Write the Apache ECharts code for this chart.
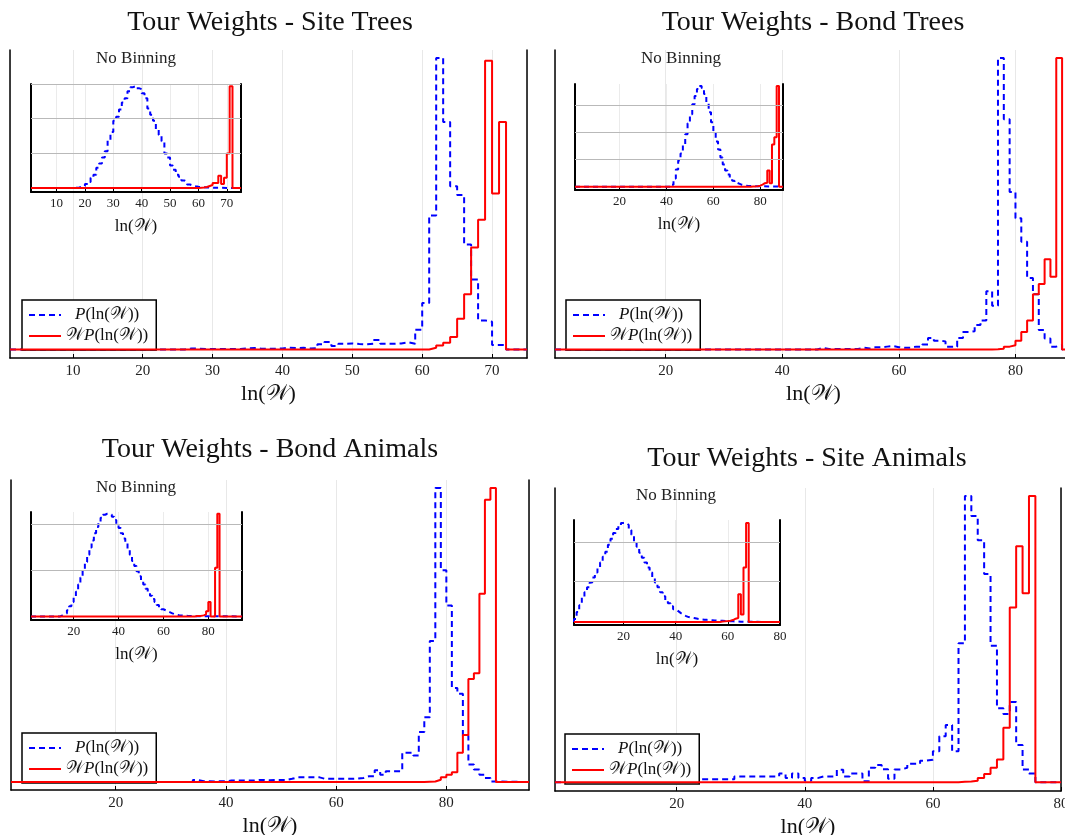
<!DOCTYPE html>
<html>
<head>
<meta charset="utf-8">
<title>Tour Weights</title>
<script src="https://cdn.jsdelivr.net/npm/echarts@6/dist/echarts.min.js"></script>
<style>
  html, body { margin: 0; padding: 0; background: #fff; }
  #chart { width: 1065px; height: 835px; }
</style>
</head>
<body>
<div id="chart"></div>
<script>
// bins are one unit of ln(W) wide; value i belongs to the bin starting at start + i

// Site Trees
const siteTreesRange = [1, 75];
const siteTreesPStart = 26;
const siteTreesP = [0.004, 0.003, 0.002, 0.002, 0.002, 0.002, 0.002, 0.002, 0.004, 0.005, 0.003, 0.003, 0.003, 0.004, 0.006, 0.005, 0.006, 0.004, 0.005, 0.018, 0.026, 0.012, 0.02, 0.021, 0.019, 0.018, 0.02, 0.033, 0.02, 0.02, 0.021, 0.025, 0.02, 0.068, 0.16, 0.46, 1.0, 0.78, 0.56, 0.53, 0.36, 0.24, 0.1, 0.095, 0.016, 0.015];
const siteTreesWPStart = 61;
const siteTreesWP = [0.006, 0.014, 0.023, 0.043, 0.106, 0.19, 0.35, 0.445, 0.99, 0.535, 0.78];
const siteTreesInsetPStart = 16;
const siteTreesInsetP = [0.003, 0.006, 0.012, 0.02, 0.04, 0.06, 0.1, 0.13, 0.2, 0.24, 0.3, 0.36, 0.47, 0.55, 0.66, 0.7, 0.77, 0.84, 0.88, 0.95, 0.99, 1.0, 0.98, 0.97, 0.93, 0.88, 0.78, 0.72, 0.66, 0.58, 0.52, 0.46, 0.34, 0.3, 0.22, 0.18, 0.13, 0.11, 0.075, 0.06, 0.035, 0.025, 0.018, 0.012, 0.01, 0.008, 0.005, 0.004, 0.003, 0.002, 0.002];
const siteTreesInsetWPStart = 60;
const siteTreesInsetWP = [0.002, 0.005, 0.01, 0.02, 0.03, 0.05, 0.05, 0.12, 0.04, 0.1, 0.34, 1.0];
const siteTreesInsetLevels = [0.34, 0.68, 1.02];

// Bond Trees
const bondTreesRange = [1, 89.7];
const bondTreesPStart = 46;
const bondTreesP = [0.006, 0.002, 0.002, 0.002, 0.002, 0.002, 0.002, 0.006, 0.004, 0.008, 0.008, 0.01, 0.012, 0.008, 0.006, 0.006, 0.01, 0.01, 0.017, 0.04, 0.03, 0.028, 0.01, 0.01, 0.04, 0.06, 0.063, 0.084, 0.1, 0.2, 0.15, 1.0, 0.79, 0.54, 0.45, 0.37, 0.245, 0.19, 0.067, 0.038, 0.01, 0.015];
const bondTreesWPStart = 76;
const bondTreesWP = [0.001, 0.003, 0.01, 0.015, 0.03, 0.06, 0.1, 0.19, 0.225, 0.31, 0.25, 1.0];
const bondTreesInsetPStart = 42;
const bondTreesInsetP = [0.02, 0.08, 0.17, 0.26, 0.33, 0.42, 0.52, 0.63, 0.72, 0.82, 0.9, 0.97, 1.0, 0.98, 0.92, 0.84, 0.74, 0.64, 0.54, 0.45, 0.37, 0.29, 0.22, 0.16, 0.12, 0.08, 0.06, 0.04, 0.03, 0.02, 0.015, 0.01, 0.008, 0.006, 0.004, 0.004, 0.004, 0.004, 0.004];
const bondTreesInsetWPStart = 76;
const bondTreesInsetWP = [0.002, 0.003, 0.005, 0.01, 0.02, 0.035, 0.04, 0.16, 0.035, 0.42, 0.49, 1.0];
const bondTreesInsetLevels = [0.268, 0.54, 0.811];

// Bond Animals
const bondAnimalsRange = [1, 95];
const bondAnimalsPStart = 34;
const bondAnimalsP = [0.007, 0.003, 0.003, 0.002, 0.003, 0.003, 0.005, 0.005, 0.005, 0.005, 0.005, 0.007, 0.007, 0.006, 0.007, 0.007, 0.007, 0.011, 0.016, 0.016, 0.016, 0.016, 0.016, 0.011, 0.011, 0.011, 0.011, 0.011, 0.011, 0.012, 0.014, 0.02, 0.02, 0.04, 0.025, 0.037, 0.037, 0.037, 0.1, 0.1, 0.09, 0.17, 0.22, 0.48, 1.0, 0.72, 0.6, 0.32, 0.3, 0.158, 0.06, 0.043, 0.025, 0.014, 0.002];
const bondAnimalsWPStart = 76;
const bondAnimalsWP = [0.001, 0.002, 0.008, 0.016, 0.025, 0.033, 0.1, 0.16, 0.35, 0.37, 0.64, 0.96, 1.0];
const bondAnimalsInsetPStart = 14;
const bondAnimalsInsetP = [0.01, 0.02, 0.03, 0.06, 0.1, 0.14, 0.19, 0.24, 0.31, 0.38, 0.45, 0.53, 0.6, 0.67, 0.74, 0.81, 0.87, 0.92, 0.96, 0.99, 1.0, 1.0, 0.99, 0.97, 0.94, 0.9, 0.86, 0.81, 0.76, 0.71, 0.65, 0.6, 0.54, 0.49, 0.44, 0.39, 0.35, 0.31, 0.27, 0.23, 0.2, 0.17, 0.14, 0.11, 0.09, 0.07, 0.06, 0.05, 0.04, 0.03, 0.022, 0.016, 0.012, 0.009, 0.007, 0.006, 0.005, 0.004, 0.003, 0.003, 0.002];
const bondAnimalsInsetWPStart = 74;
const bondAnimalsInsetWP = [0.003, 0.005, 0.007, 0.01, 0.02, 0.05, 0.14, 0, 0, 0.475, 1.0];
const bondAnimalsInsetLevels = [0.45, 0.9];

// Site Animals
const siteAnimalsRange = [1, 80];
const siteAnimalsPStart = 23;
const siteAnimalsP = [0.01, 0.01, 0.01, 0.01, 0.01, 0.01, 0.02, 0.02, 0.02, 0.02, 0.02, 0.02, 0.02, 0.03, 0.014, 0.03, 0.014, 0.005, 0.014, 0.02, 0.02, 0.02, 0.043, 0.02, 0.03, 0.03, 0.003, 0.05, 0.06, 0.045, 0.012, 0.044, 0.05, 0.064, 0.064, 0.075, 0.078, 0.108, 0.16, 0.2, 0.108, 0.485, 1.0, 0.93, 0.845, 0.727, 0.477, 0.258, 0.238, 0.28, 0.13, 0.044, 0.03];
const siteAnimalsWPStart = 64;
const siteAnimalsWP = [0.001, 0.002, 0.005, 0.014, 0.028, 0.05, 0.079, 0.19, 0.61, 0.824, 0.66, 1.0];
const siteAnimalsInsetPStart = 1;
const siteAnimalsInsetP = [0.03, 0.1, 0.17, 0.25, 0.3, 0.35, 0.4, 0.45, 0.5, 0.55, 0.6, 0.66, 0.71, 0.78, 0.84, 0.9, 0.94, 0.97, 1.0, 1.0, 0.98, 0.93, 0.88, 0.81, 0.76, 0.7, 0.65, 0.6, 0.55, 0.5, 0.45, 0.4, 0.35, 0.3, 0.26, 0.22, 0.19, 0.16, 0.13, 0.11, 0.09, 0.075, 0.06, 0.05, 0.045, 0.04, 0.035, 0.03, 0.027, 0.024, 0.022, 0.02, 0.018, 0.016, 0.014, 0.013, 0.012, 0.011, 0.01, 0.008, 0.007, 0.006, 0.005, 0.003];
const siteAnimalsInsetWPStart = 57;
const siteAnimalsInsetWP = [0.005, 0.007, 0.01, 0.014, 0.02, 0.034, 0.04, 0.28, 0.075, 0.55, 1.0];
const siteAnimalsInsetLevels = [0.41, 0.815];

const SERIF = '"Liberation Serif", "DejaVu Serif", serif';
const SCRIPT_W = '𝒲';
const P_NAME = 'P(ln(' + SCRIPT_W + '))';
const WP_NAME = SCRIPT_W + 'P(ln(' + SCRIPT_W + '))';
const AXIS_NAME = 'ln(' + SCRIPT_W + ')';
const BLUE = '#0000ff';
const RED = '#ff0000';

// layout of each panel (pixels)
const panels = [
  {
    title: 'Tour Weights - Site Trees', titleX: 270, titleTop: 9,
    range: siteTreesRange, split: 7, showMax: false, rightLine: true,
    p: [siteTreesPStart, siteTreesP], wp: [siteTreesWPStart, siteTreesWP],
    ip: [siteTreesInsetPStart, siteTreesInsetP], iwp: [siteTreesInsetWPStart, siteTreesInsetWP],
    levels: siteTreesInsetLevels,
    main: { left: 10, top: 50, width: 517, height: 308, ymin: -0.029, ymax: 1.027 },
    inset: { left: 31, top: 84, width: 210, height: 108, ymin: -0.039, ymax: 1.021 },
    insetTitle: [136, 50], legend: [22, 300]
  },
  {
    title: 'Tour Weights - Bond Trees', titleX: 813, titleTop: 9,
    range: bondTreesRange, split: 4, showMax: false, rightLine: false,
    p: [bondTreesPStart, bondTreesP], wp: [bondTreesWPStart, bondTreesWP],
    ip: [bondTreesInsetPStart, bondTreesInsetP], iwp: [bondTreesInsetWPStart, bondTreesInsetWP],
    levels: bondTreesInsetLevels,
    main: { left: 555, top: 50, width: 517, height: 308, ymin: -0.029, ymax: 1.027 },
    inset: { left: 575, top: 84, width: 208, height: 106, ymin: -0.033, ymax: 1.02 },
    insetTitle: [681, 50], legend: [566, 300]
  },
  {
    title: 'Tour Weights - Bond Animals', titleX: 270, titleTop: 436,
    range: bondAnimalsRange, split: 4, showMax: false, rightLine: true,
    p: [bondAnimalsPStart, bondAnimalsP], wp: [bondAnimalsWPStart, bondAnimalsWP],
    ip: [bondAnimalsInsetPStart, bondAnimalsInsetP], iwp: [bondAnimalsInsetWPStart, bondAnimalsInsetWP],
    levels: bondAnimalsInsetLevels,
    main: { left: 11, top: 480, width: 518, height: 310, ymin: -0.027, ymax: 1.027 },
    inset: { left: 31, top: 512, width: 211, height: 108, ymin: -0.035, ymax: 1.017 },
    insetTitle: [136, 479], legend: [22, 733]
  },
  {
    title: 'Tour Weights - Site Animals', titleX: 807, titleTop: 445,
    range: siteAnimalsRange, split: 4, showMax: true, rightLine: true,
    p: [siteAnimalsPStart, siteAnimalsP], wp: [siteAnimalsWPStart, siteAnimalsWP],
    ip: [siteAnimalsInsetPStart, siteAnimalsInsetP], iwp: [siteAnimalsInsetWPStart, siteAnimalsInsetWP],
    levels: siteAnimalsInsetLevels,
    main: { left: 555, top: 488, width: 506, height: 303, ymin: -0.031, ymax: 1.028 },
    inset: { left: 574, top: 520, width: 206, height: 105, ymin: -0.03, ymax: 1.03 },
    insetTitle: [676, 487], legend: [565, 734]
  }
];

// histogram outline for step:'end'
function histPoints(range, start, values) {
  const pts = [[range[0], 0]];
  values.forEach((v, i) => pts.push([start + i, v]));
  pts.push([start + values.length, 0]);
  pts.push([range[1], 0]);
  return pts;
}

const option = {
  animation: false,
  backgroundColor: '#fff',
  title: [],
  legend: [],
  grid: [],
  xAxis: [],
  yAxis: [],
  series: []
};

panels.forEach((pn, k) => {
  const gMain = k * 2;
  const gInset = k * 2 + 1;

  option.title.push({
    text: pn.title, left: pn.titleX, top: pn.titleTop, textAlign: 'center', padding: 0,
    textStyle: { fontFamily: SERIF, fontSize: 28, fontWeight: 'normal', color: '#111' }
  });
  option.title.push({
    text: 'No Binning', left: pn.insetTitle[0], top: pn.insetTitle[1], textAlign: 'center', padding: 0,
    textStyle: { fontFamily: SERIF, fontSize: 17, fontWeight: 'normal', color: '#222' }
  });

  option.legend.push({
    left: pn.legend[0], top: pn.legend[1], orient: 'vertical',
    data: [P_NAME, WP_NAME],
    backgroundColor: '#fff', borderColor: '#000', borderWidth: 1.5, borderRadius: 0,
    padding: [6, 8, 5, 6], itemGap: 3, itemWidth: 32, itemHeight: 16,
    selectedMode: false,
    itemStyle: { opacity: 0 },
    formatter: name => name === P_NAME
      ? '{pad|}{i|P}(ln({w|' + SCRIPT_W + '}))'
      : '{w|' + SCRIPT_W + '}{i|P}(ln({w|' + SCRIPT_W + '}))',
    textStyle: {
      fontFamily: SERIF, fontSize: 17, color: '#111', lineHeight: 18,
      rich: {
        i: { fontFamily: SERIF, fontStyle: 'italic', fontSize: 17, color: '#111' },
        w: { fontFamily: SERIF, fontSize: 17, color: '#111' },
        pad: { width: 9 }
      }
    }
  });

  // main plot
  option.grid.push({
    left: pn.main.left, top: pn.main.top, width: pn.main.width, height: pn.main.height,
    containLabel: false, outerBoundsMode: 'none'
  });
  option.xAxis.push({
    gridIndex: gMain, type: 'value', min: pn.range[0], max: pn.range[1], splitNumber: pn.split,
    axisLine: { onZero: false, lineStyle: { color: '#000', width: 1.5 } },
    axisTick: { inside: true, length: 4, lineStyle: { color: '#000', width: 1 } },
    axisLabel: { fontFamily: SERIF, fontSize: 15, color: '#222', margin: 6, showMinLabel: false, showMaxLabel: pn.showMax },
    splitLine: { show: true, lineStyle: { color: '#e8e8e8', width: 1 } },
    name: AXIS_NAME, nameLocation: 'middle', nameGap: 25,
    nameTextStyle: { fontFamily: SERIF, fontSize: 22, color: '#111' }
  });
  option.yAxis.push({
    gridIndex: gMain, type: 'value', min: pn.main.ymin, max: pn.main.ymax,
    axisLine: { show: true, lineStyle: { color: '#000', width: 1.5 } },
    axisTick: { show: false }, axisLabel: { show: false }, splitLine: { show: false }
  });
  option.yAxis.push({
    gridIndex: gMain, type: 'value', position: 'right',
    axisLine: { show: pn.rightLine, lineStyle: { color: '#000', width: 1.5 } },
    axisTick: { show: false }, axisLabel: { show: false }, splitLine: { show: false }
  });

  // inset
  option.grid.push({
    left: pn.inset.left, top: pn.inset.top, width: pn.inset.width, height: pn.inset.height,
    containLabel: false, outerBoundsMode: 'none'
  });
  option.xAxis.push({
    gridIndex: gInset, type: 'value', min: pn.range[0], max: pn.range[1], splitNumber: pn.split,
    axisLine: { onZero: false, lineStyle: { color: '#000', width: 2 } },
    axisTick: { inside: true, length: 3, lineStyle: { color: '#000', width: 1 } },
    axisLabel: { fontFamily: SERIF, fontSize: 13, color: '#222', margin: 5, showMinLabel: false, showMaxLabel: pn.showMax },
    splitLine: { show: true, lineStyle: { color: '#ebebeb', width: 1 } },
    name: AXIS_NAME, nameLocation: 'middle', nameGap: 26,
    nameTextStyle: { fontFamily: SERIF, fontSize: 17, color: '#111' }
  });
  option.yAxis.push({
    gridIndex: gInset, type: 'value', min: pn.inset.ymin, max: pn.inset.ymax,
    axisLine: { show: true, lineStyle: { color: '#000', width: 2 } },
    axisTick: { show: false }, axisLabel: { show: false }, splitLine: { show: false }
  });
  option.yAxis.push({
    gridIndex: gInset, type: 'value', position: 'right',
    axisLine: { show: true, lineStyle: { color: '#000', width: 2 } },
    axisTick: { show: false }, axisLabel: { show: false }, splitLine: { show: false }
  });

  const yMain = k * 4;
  const yInset = k * 4 + 2;

  option.series.push({
    name: P_NAME, type: 'line', step: 'end', symbol: 'none', z: 3,
    xAxisIndex: gMain, yAxisIndex: yMain,
    data: histPoints(pn.range, pn.p[0], pn.p[1]),
    lineStyle: { color: BLUE, width: 2, type: [6, 4] }, itemStyle: { color: BLUE }
  });
  option.series.push({
    name: WP_NAME, type: 'line', step: 'end', symbol: 'none', z: 4,
    xAxisIndex: gMain, yAxisIndex: yMain,
    data: histPoints(pn.range, pn.wp[0], pn.wp[1]),
    lineStyle: { color: RED, width: 2 }, itemStyle: { color: RED }
  });

  // horizontal guide lines of the inset
  option.series.push({
    name: 'inset-grid-' + k, type: 'line', data: [], z: 1,
    xAxisIndex: gInset, yAxisIndex: yInset,
    markLine: {
      silent: true, symbol: 'none', label: { show: false }, animation: false,
      lineStyle: { color: '#b9b9b9', type: 'solid', width: 1 },
      data: pn.levels.map(v => ({ yAxis: v }))
    }
  });
  option.series.push({
    name: P_NAME, type: 'line', step: 'end', symbol: 'none', z: 3,
    xAxisIndex: gInset, yAxisIndex: yInset,
    data: histPoints(pn.range, pn.ip[0], pn.ip[1]),
    lineStyle: { color: BLUE, width: 2, type: [5, 4] }, itemStyle: { color: BLUE }
  });
  option.series.push({
    name: WP_NAME, type: 'line', step: 'end', symbol: 'none', z: 4,
    xAxisIndex: gInset, yAxisIndex: yInset,
    data: histPoints(pn.range, pn.iwp[0], pn.iwp[1]),
    lineStyle: { color: RED, width: 2 }, itemStyle: { color: RED }
  });
});

const chart = echarts.init(document.getElementById('chart'));
chart.setOption(option);
window.addEventListener('resize', () => chart.resize());
</script>
</body>
</html>
